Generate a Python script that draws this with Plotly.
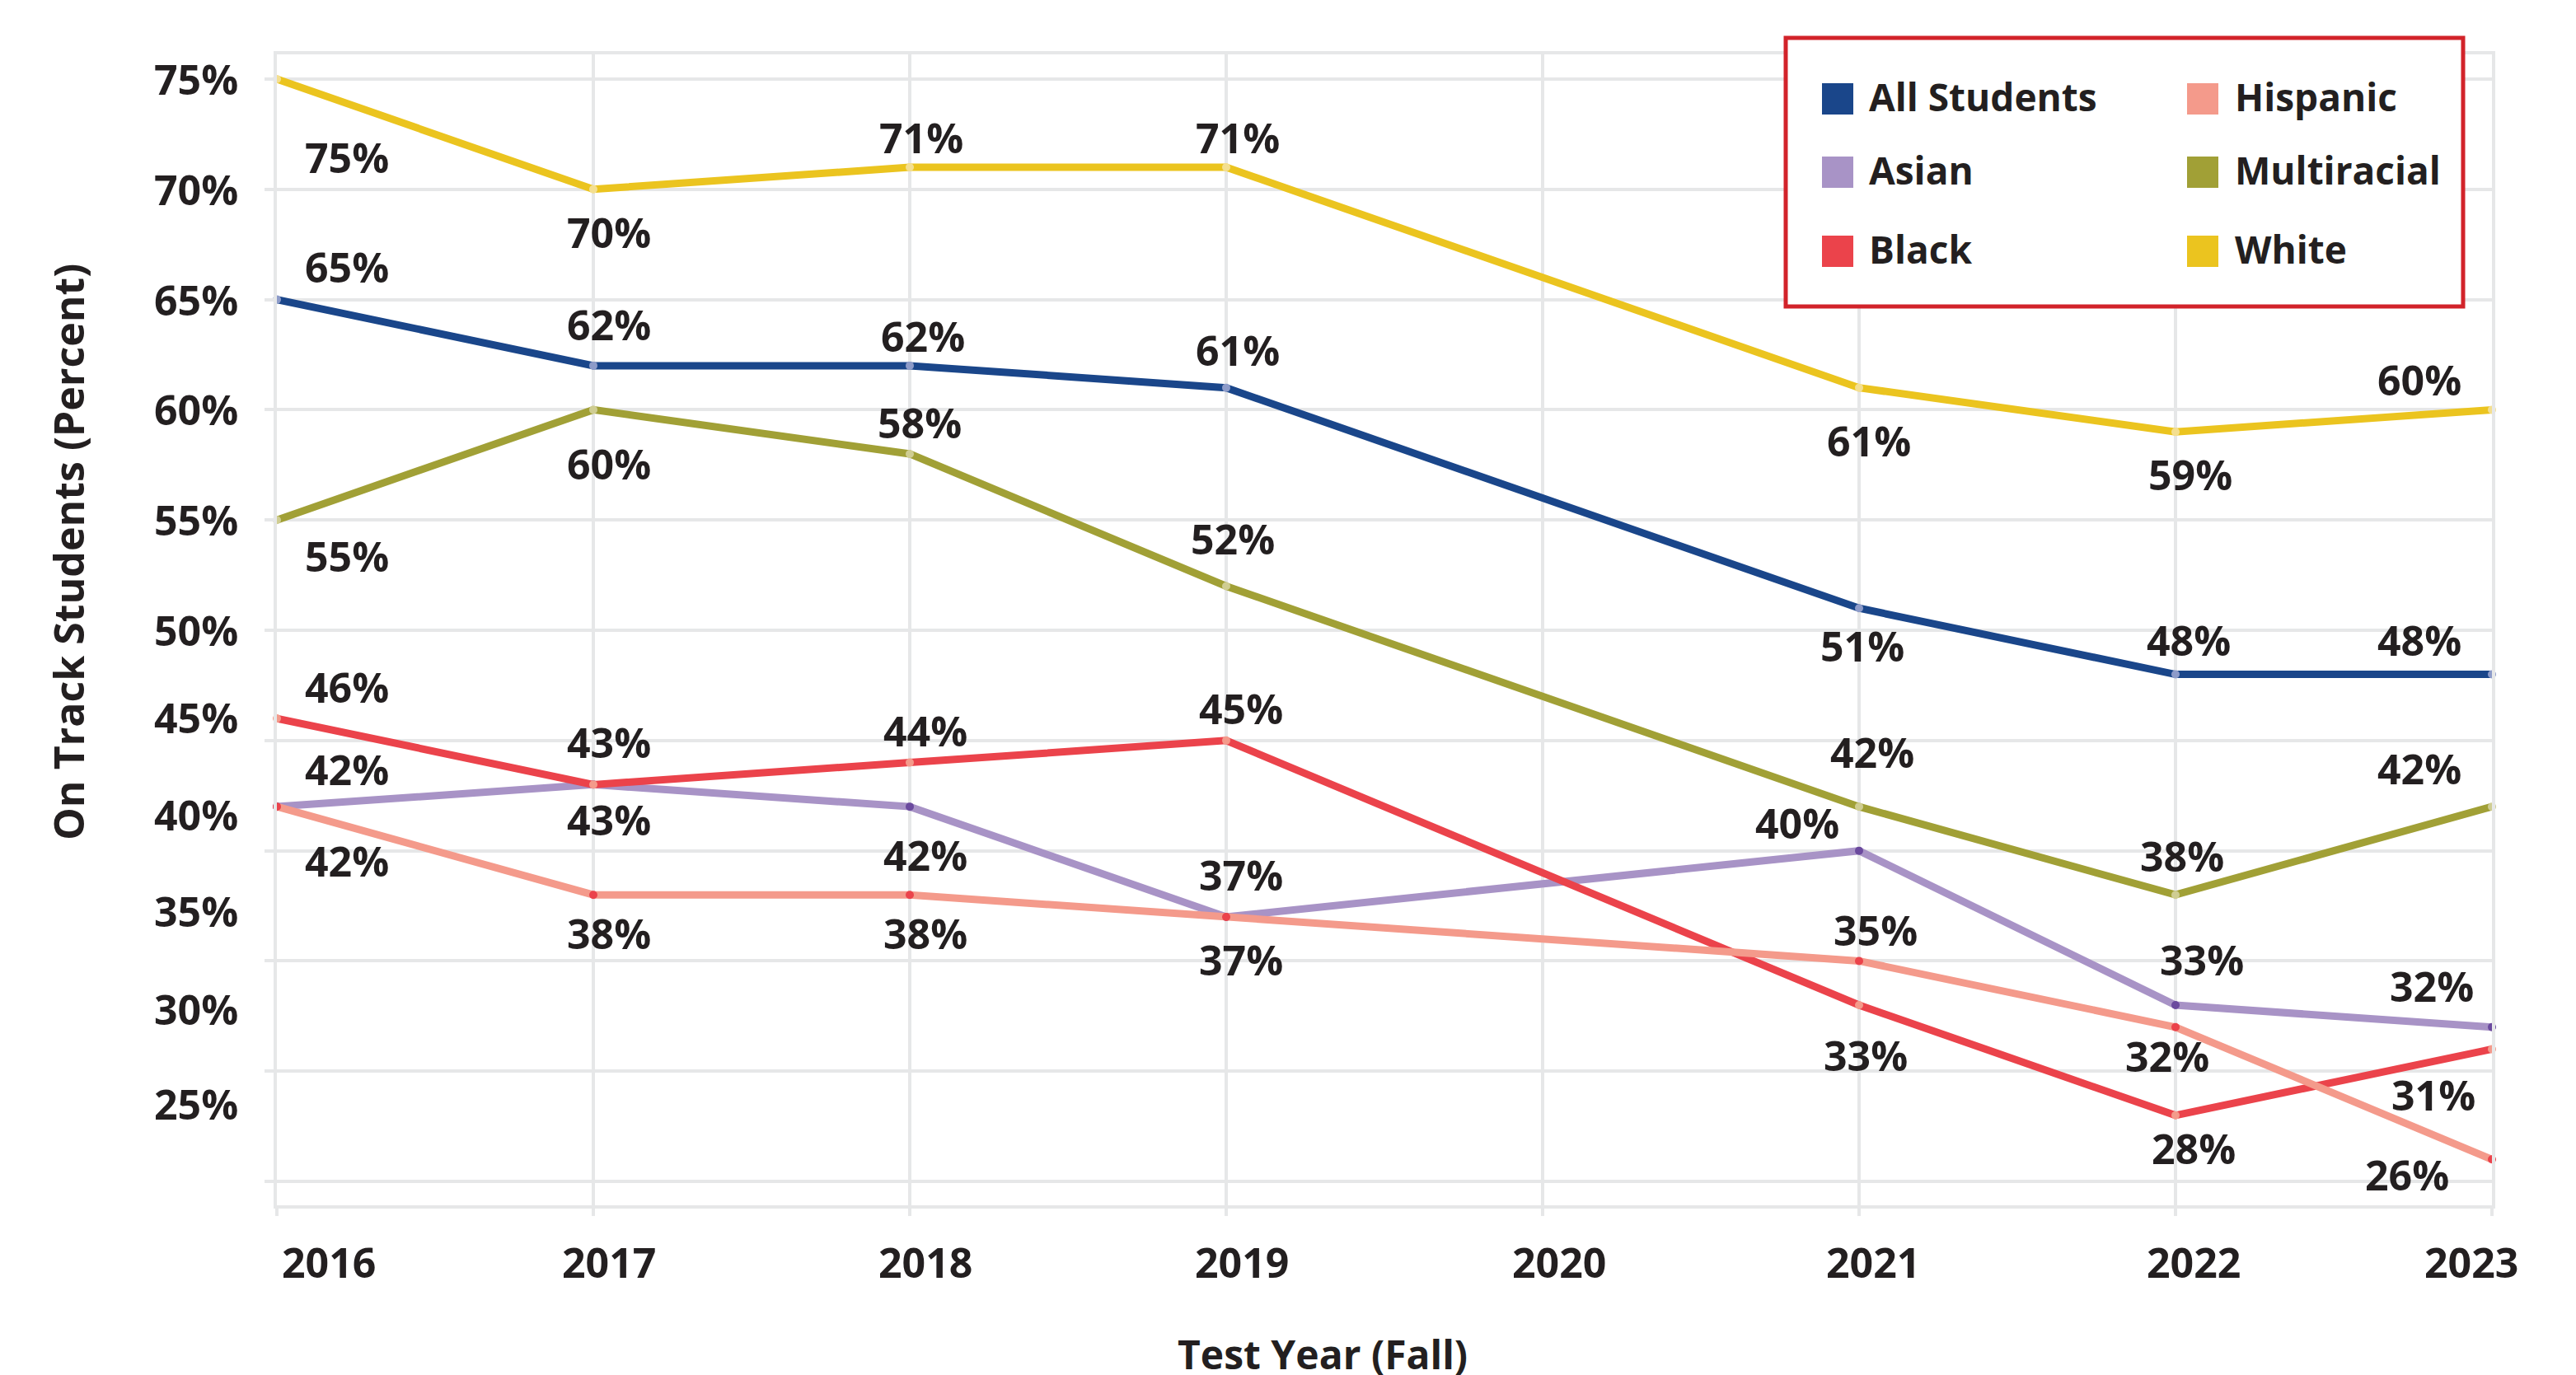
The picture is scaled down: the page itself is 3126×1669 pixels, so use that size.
import plotly.graph_objects as go

# data (2020 has no reported value)
years = [2016, 2017, 2018, 2019, 2020, 2021, 2022, 2023]
all_students = [65, 62, 62, 61, None, 51, 48, 48]
asian = [42, 43, 42, 37, None, 40, 33, 32]
black = [46, 43, 44, 45, None, 33, 28, 31]
hispanic = [42, 38, 38, 37, None, 35, 32, 26]
multiracial = [55, 60, 58, 52, None, 42, 38, 42]
white = [75, 70, 71, 71, None, 61, 59, 60]
y_ticks = [75, 70, 65, 60, 55, 50, 45, 40, 35, 30, 25]

FONT = "Open Sans"
INK = "#231f20"
GRID = "#e6e7e8"

# plot area in page pixels, used for the legend box and axis titles
PL, PR, PT, PB = 336, 3024, 66, 1463


def px(x):
    return (x - PL) / (PR - PL)


def py(y):
    return (PB - y) / (PB - PT)


# name, values, line colour, dot colour, label offsets (dx, dy down) in px
series = [
    ("All Students", all_students, "#1a468a", "#8d9bc9",
     [(32, -40), (19, -50), (16, -36), (14, -46), None, (4, 46), (16, -42), (-35, -42)]),
    ("Asian", asian, "#a893c6", "#6b4a9e",
     [(32, -45), (19, 43), (19, 59), (18, -51), None, (-75, -34), (32, -55), (-20, -50)]),
    ("Black", black, "#eb434b", "#f49a8b",
     [(32, -38), (19, -51), (19, -39), (18, -39), None, (8, 61), (22, 40), (-18, 55)]),
    ("Hispanic", hispanic, "#f49a8b", "#eb434b",
     [(32, 66), (19, 47), (19, 47), (18, 52), None, (20, -37), (-10, 35), (-50, 19)]),
    ("Multiracial", multiracial, "#a1a036", "#cfcd92",
     [(32, 44), (19, 66), (12, -38), (8, -58), None, (16, -66), (8, -47), (-35, -46)]),
    ("White", white, "#ebc41f", "#f4df90",
     [(32, 95), (19, 52), (14, -36), (14, -36), None, (12, 64), (18, 52), (-35, -36)]),
]

fig = go.Figure()
annotations = []
for name, vals, color, dot, offsets in series:
    fig.add_trace(go.Scatter(
        x=years, y=vals, name=name, mode="lines+markers",
        connectgaps=True, cliponaxis=False,
        line=dict(color=color, width=9),
        marker=dict(color=dot, size=10),
    ))
    for i, (yr, v) in enumerate(zip(years, vals)):
        if v is None:
            continue
        dx, dy = offsets[i]
        anchor = "left" if i == 0 else ("right" if i == len(years) - 1 else "center")
        annotations.append(dict(
            x=yr, y=v, xref="x", yref="y", text=f"{v}%", showarrow=False,
            xanchor=anchor, yanchor="middle", xshift=dx, yshift=-dy,
            font=dict(family=FONT, size=50, color=INK, weight=700),
        ))

# tick labels sit where the original put them (lower ones drift off the grid)
y_label_pos = [75, 70, 65, 60, 55, 50, 46.05, 41.65, 37.25, 32.8, 28.5]
for t, pos in zip(y_ticks, y_label_pos):
    annotations.append(dict(
        x=0, xref="paper", y=pos, yref="y", text=f"{t}%", showarrow=False,
        xanchor="right", yanchor="middle", xshift=-45,
        font=dict(family=FONT, size=50, color=INK, weight=700),
    ))

x_label_shift = [63, 19, 19, 19, 20, 17, 22, -25]
for yr, s in zip(years, x_label_shift):
    annotations.append(dict(
        x=yr, xref="x", y=0, yref="paper", text=str(yr), showarrow=False,
        xanchor="center", yanchor="middle", xshift=s, yshift=-69,
        font=dict(family=FONT, size=50, color=INK, weight=700),
    ))

annotations.append(dict(
    x=px(83), y=py(670), xref="paper", yref="paper", text="On Track Students (Percent)",
    textangle=-90, showarrow=False, xanchor="center", yanchor="middle",
    font=dict(family=FONT, size=50, color=INK, weight=700),
))
annotations.append(dict(
    x=px(1605), y=py(1644), xref="paper", yref="paper", text="Test Year (Fall)",
    showarrow=False, xanchor="center", yanchor="middle",
    font=dict(family=FONT, size=48, color=INK, weight=700),
))

# legend: red box, two columns of coloured squares
shapes = [dict(type="rect", xref="paper", yref="paper", layer="above",
               x0=px(2167), x1=px(2989), y0=py(372), y1=py(46),
               line=dict(color="#d2232a", width=5), fillcolor="white")]
col_square = [2211, 2654]
col_text = [2266, 2710]
row_mid = [120, 209, 305]
sq = 38
for k, (name, vals, color, dot, offsets) in enumerate(series):
    c, r = k // 3, k % 3
    shapes.append(dict(type="rect", xref="paper", yref="paper", layer="above",
                       x0=px(col_square[c]), x1=px(col_square[c] + sq),
                       y0=py(row_mid[r] + sq / 2), y1=py(row_mid[r] - sq / 2),
                       line=dict(width=0), fillcolor=color))
    annotations.append(dict(
        x=px(col_text[c]), y=py(row_mid[r] - 3), xref="paper", yref="paper",
        text=name, showarrow=False, xanchor="left", yanchor="middle",
        font=dict(family=FONT, size=46, color=INK, weight=700),
    ))

fig.update_layout(
    width=3126, height=1669, autosize=False,
    margin=dict(l=PL, r=3126 - PR, t=PT, b=1669 - PB),
    plot_bgcolor="white", paper_bgcolor="white",
    showlegend=False,
    font=dict(family=FONT, size=50, color=INK),
    annotations=annotations, shapes=shapes,
)
fig.update_xaxes(
    range=[2016, 2023], tickvals=years, showticklabels=False,
    showgrid=True, gridcolor=GRID, gridwidth=4, zeroline=False,
    showline=True, linecolor=GRID, linewidth=4, mirror=True,
    ticks="outside", ticklen=9, tickwidth=4, tickcolor=GRID,
)
fig.update_yaxes(
    range=[23.92, 76.12], tickvals=y_ticks, showticklabels=False,
    showgrid=True, gridcolor=GRID, gridwidth=4, zeroline=False,
    showline=True, linecolor=GRID, linewidth=4, mirror=True,
    ticks="outside", ticklen=11, tickwidth=4, tickcolor=GRID,
)

# drop the browser's default body margin so the figure sits at the page corner
fig.write_html("out.html", config={"displayModeBar": False},
               post_script="document.body.style.margin='0';")
